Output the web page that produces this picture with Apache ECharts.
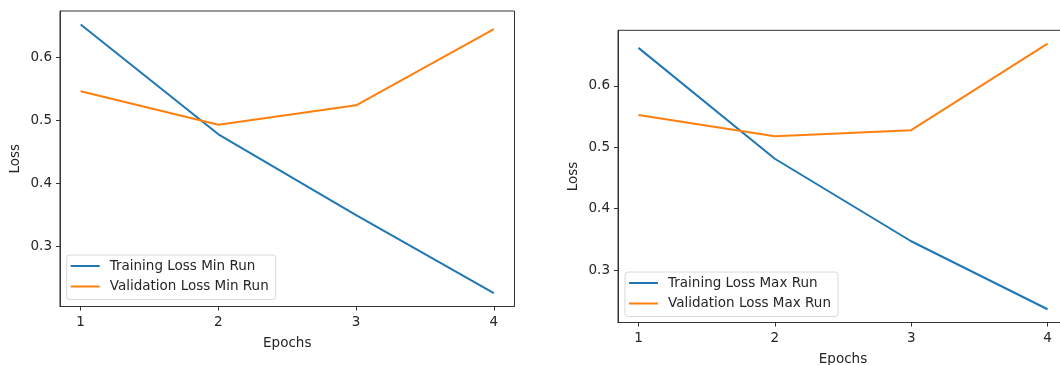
<!DOCTYPE html>
<html>
<head>
<meta charset="utf-8">
<script src="https://cdn.jsdelivr.net/npm/echarts@6/dist/echarts.min.js"></script>
<style>
html,body{margin:0;padding:0;background:#fff;}
#chart{width:1060px;height:365px;}
</style>
</head>
<body>
<div id="chart"></div>
<script>
const epochs = [1, 2, 3, 4];
const trainMin = [0.6525, 0.478, 0.3495, 0.2256];
const valMin = [0.5465, 0.493, 0.524, 0.645];
const trainMax = [0.662, 0.4814, 0.347, 0.2363];
const valMax = [0.5526, 0.518, 0.528, 0.669];
const xTicks = [1, 2, 3, 4];
const yTicks = [0.3, 0.4, 0.5, 0.6];
const seriesNames = ['Training Loss Min Run', 'Validation Loss Min Run', 'Training Loss Max Run', 'Validation Loss Max Run'];

const FONT = 'DejaVu Sans';
const FS = 13.5;
const TXT = '#262626';
const C1 = '#1f77b4', C2 = '#ff7f0e';

function pairs(xs, ys) { return xs.map((x, i) => [x, ys[i]]); }

function xAxisCfg(gi, min, max) {
  return {
    type: 'value', gridIndex: gi, min: min, max: max,
    name: 'Epochs', nameLocation: 'middle', nameGap: 30,
    nameTextStyle: { fontFamily: FONT, fontSize: FS, color: TXT },
    axisLine: { show: true, lineStyle: { color: '#333', width: 1 } },
    axisTick: { show: true, inside: false, length: 4, customValues: xTicks, lineStyle: { color: '#333' } },
    axisLabel: { customValues: xTicks, margin: 9, fontFamily: FONT, fontSize: FS, color: TXT },
    splitLine: { show: false }
  };
}
function yAxisCfg(gi, min, max) {
  return {
    type: 'value', gridIndex: gi, min: min, max: max,
    name: 'Loss', nameLocation: 'middle', nameGap: 38, nameRotate: 90,
    nameTextStyle: { fontFamily: FONT, fontSize: FS, color: TXT },
    axisLine: { show: true, lineStyle: { color: '#333', width: 1 } },
    axisTick: { show: true, inside: false, length: 4, customValues: yTicks, lineStyle: { color: '#333' } },
    axisLabel: { customValues: yTicks, margin: 8, fontFamily: FONT, fontSize: FS, color: TXT,
      formatter: v => v.toFixed(1) },
    splitLine: { show: false }
  };
}
function lineSeries(name, xi, data, color) {
  return {
    type: 'line', name: name, xAxisIndex: xi, yAxisIndex: xi,
    data: data, showSymbol: false, symbol: 'none', animation: false,
    lineStyle: { color: color, width: 2 }, itemStyle: { color: color }
  };
}
function legendCfg(left, top, names) {
  return {
    orient: 'vertical', left: left, top: top,
    data: names, icon: 'rect', itemWidth: 29, itemHeight: 2, itemGap: 6.5,
    padding: [4, 7, 6, 4],
    borderColor: '#d8d8d8', borderWidth: 1, borderRadius: 3,
    backgroundColor: 'rgba(255,255,255,0.8)',
    selectedMode: false,
    textStyle: { fontFamily: FONT, fontSize: FS, color: TXT, padding: [0, 0, 0, 5] }
  };
}

const gridBase = { show: true, borderColor: '#333', borderWidth: 1, backgroundColor: 'transparent',
  containLabel: false, outerBoundsMode: 'none' };

const chart = echarts.init(document.getElementById('chart'), null, { renderer: 'canvas' });
chart.setOption({
  backgroundColor: '#fff',
  animation: false,
  grid: [
    Object.assign({ left: 60, top: 11, width: 454.5, height: 295.5 }, gridBase),
    Object.assign({ left: 618, top: 30.3, width: 450, height: 292.2 }, gridBase)
  ],
  xAxis: [xAxisCfg(0, 0.85, 4.15), xAxisCfg(1, 0.85, 4.15)],
  yAxis: [yAxisCfg(0, 0.2043, 0.6739), yAxisCfg(1, 0.2147, 0.6906)],
  legend: [
    legendCfg(66.7, 255, [seriesNames[0], seriesNames[1]]),
    legendCfg(625, 272, [seriesNames[2], seriesNames[3]])
  ],
  series: [
    lineSeries(seriesNames[0], 0, pairs(epochs, trainMin), C1),
    lineSeries(seriesNames[1], 0, pairs(epochs, valMin), C2),
    lineSeries(seriesNames[2], 1, pairs(epochs, trainMax), C1),
    lineSeries(seriesNames[3], 1, pairs(epochs, valMax), C2)
  ]
});
</script>
</body>
</html>
